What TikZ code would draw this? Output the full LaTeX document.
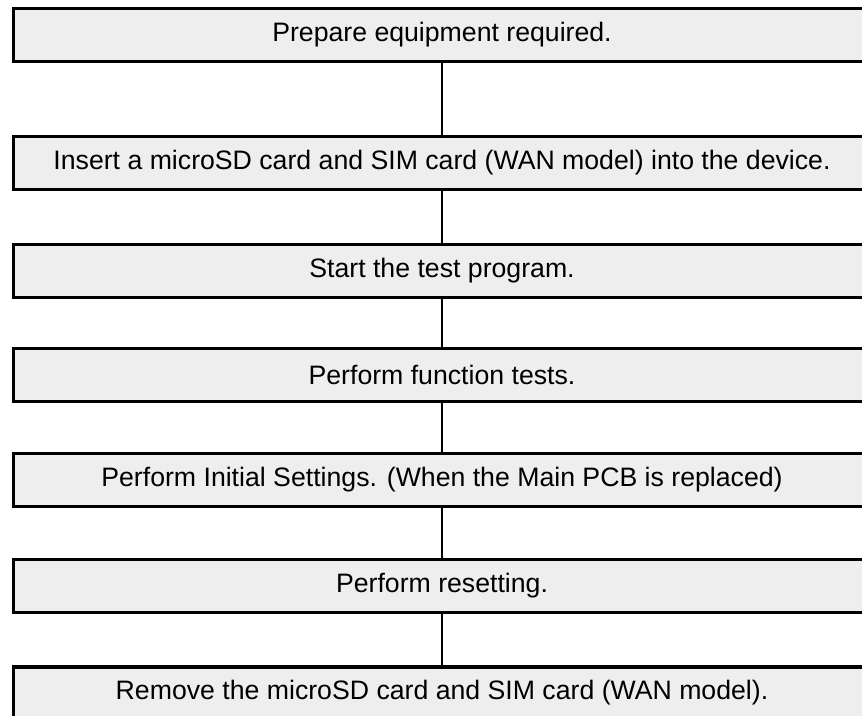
\documentclass[tikz,border=0pt]{standalone}
\usepackage{fontspec}
\setmainfont{Liberation Sans}
\definecolor{boxfill}{HTML}{EEEEEE}
\begin{document}
\begin{tikzpicture}[x=0.75pt,y=-0.75pt,
  stepbox/.style={draw=black, fill=boxfill, line width=2.6pt,
    minimum width=857.4*0.75pt, minimum height=52.5*0.75pt,
    inner sep=0pt, font=\fontsize{20}{24}\selectfont},
  link/.style={draw=black, line width=1.5pt}]
\useasboundingbox (0,0) rectangle (862,715);
\fill[white] (0,0) rectangle (862,715);
\node[stepbox] (s1) at (442,35) {Prepare equipment required.};
\node[stepbox] (s2) at (442,163) {Insert a microSD card and SIM card (WAN model) into the device.};
\node[stepbox] (s3) at (442,271) {Start the test program.};
\node[stepbox] (s4) at (442,375) {Perform function tests.};
\node[stepbox] (s5) at (442,480) {Perform Initial Settings. (When the Main PCB is replaced)};
\node[stepbox] (s6) at (442,586) {Perform resetting.};
\node[stepbox] (s7) at (442,693) {Remove the microSD card and SIM card (WAN model).};
\draw[link] (s1.south) -- (s2.north);
\draw[link] (s2.south) -- (s3.north);
\draw[link] (s3.south) -- (s4.north);
\draw[link] (s4.south) -- (s5.north);
\draw[link] (s5.south) -- (s6.north);
\draw[link] (s6.south) -- (s7.north);
\end{tikzpicture}
\end{document}
